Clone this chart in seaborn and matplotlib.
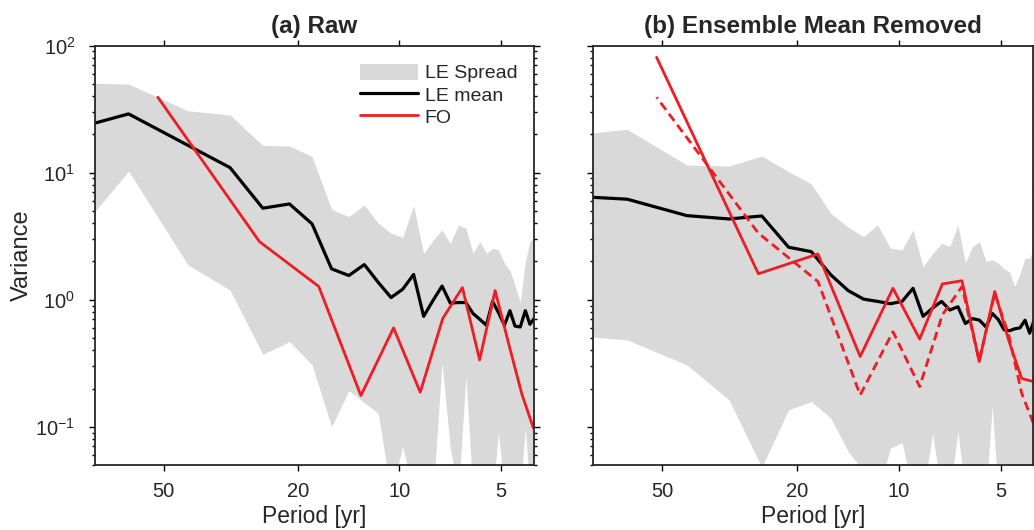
import numpy as np
import matplotlib
matplotlib.use("Agg")
import matplotlib.pyplot as plt
import seaborn as sns
from matplotlib.patches import Patch
from matplotlib.lines import Line2D
from matplotlib.ticker import FixedLocator, NullLocator, LogLocator

# periods [yr] of the large ensemble spectra and of the observations
le_period = [127.0, 63.5, 42.33, 31.75, 25.4, 21.17, 18.14, 15.88, 14.11, 12.7,
             11.55, 10.58, 9.77, 9.07, 8.47, 7.94, 7.47, 7.06, 6.68, 6.35,
             6.05, 5.77, 5.52, 5.29, 5.08, 4.88, 4.70, 4.54, 4.38, 4.23, 4.10, 3.97]
fo_period = [52.0, 26.0, 17.33, 13.0, 10.4, 8.67, 7.43, 6.5, 5.78, 5.2, 4.73, 4.33, 4.0]

# (a) Raw
raw_mean = [17.5, 29.0, 16.4, 10.95, 5.25, 5.67, 3.95, 1.75, 1.55, 1.89,
            1.37, 1.04, 1.21, 1.58, 0.74, 0.99, 1.28, 0.94, 0.95, 0.95,
            0.78, 0.70, 0.63, 0.97, 0.79, 0.63, 0.82, 0.62, 0.61, 0.82, 0.64, 0.72]
raw_upper = [51.9, 49.8, 30.7, 28.4, 16.4, 16.2, 13.4, 5.15, 4.5, 5.57,
             4.0, 3.34, 3.1, 5.5, 2.3, 2.95, 3.54, 2.78, 3.88, 3.65,
             2.32, 2.86, 2.32, 2.54, 2.47, 1.94, 1.7, 1.3, 0.95, 2.0, 2.9, 3.1]
raw_lower = [1.12, 10.3, 1.88, 1.19, 0.372, 0.468, 0.307, 0.10, 0.193, 0.155,
             0.128, 0.03, 0.07, 0.03, 0.03, 0.03, 0.32, 0.068, 0.03, 0.25,
             0.03, 0.03, 0.03, 0.03, 0.09, 0.03, 0.03, 0.03, 0.03, 0.1, 0.03, 0.03]
raw_fo = [39.2, 2.87, 1.27, 0.176, 0.60, 0.187, 0.715, 1.245, 0.336, 1.18, 0.44, 0.18, 0.097]

# (b) Ensemble mean removed
rem_mean = [6.84, 6.18, 4.59, 4.32, 4.56, 2.59, 2.39, 1.57, 1.18, 1.01,
            0.97, 0.93, 0.97, 1.23, 0.74, 0.86, 0.97, 0.83, 0.88, 0.65,
            0.71, 0.69, 0.61, 0.78, 0.70, 0.58, 0.57, 0.59, 0.60, 0.69, 0.545, 0.70]
rem_upper = [18.2, 21.9, 11.5, 11.3, 13.5, 10.2, 8.15, 4.79, 3.72, 3.14,
             3.88, 2.54, 2.47, 3.54, 1.82, 2.3, 2.78, 2.62, 3.88, 1.94,
             2.62, 2.86, 2.0, 2.06, 1.94, 1.75, 1.65, 1.27, 1.6, 2.12, 2.12, 2.62]
rem_lower = [0.56, 0.483, 0.307, 0.163, 0.048, 0.136, 0.158, 0.117, 0.064, 0.045,
             0.03, 0.068, 0.075, 0.03, 0.03, 0.088, 0.03, 0.03, 0.092, 0.03,
             0.03, 0.03, 0.03, 0.144, 0.03, 0.03, 0.03, 0.03, 0.03, 0.03, 0.03, 0.03]
rem_fo = [80.9, 1.6, 2.29, 0.357, 1.23, 0.49, 1.33, 1.41, 0.326, 1.16, 0.48, 0.24, 0.227]
rem_fo_raw = [39.2, 3.34, 1.39, 0.178, 0.56, 0.207, 0.76, 1.27, 0.33, 1.12, 0.53, 0.184, 0.107]

sns.set_style("ticks")
plt.rcParams['font.family'] = ['Liberation Sans', 'DejaVu Sans']
plt.rcParams['mathtext.default'] = 'regular'

gray = '#d9d9d9'
red = '#ee1d23'

fig = plt.figure(figsize=(10.34, 5.30), dpi=100)
ax1 = fig.add_axes([0.0916, 0.1226, 0.4244, 0.7914])
ax2 = fig.add_axes([0.5738, 0.1226, 0.4255, 0.7914])


def draw_panel(ax, mean, lower, upper, fo, title):
    ax.fill_between(le_period, lower, upper, color=gray, lw=0, zorder=1)
    sns.lineplot(x=le_period, y=mean, ax=ax, color='black', lw=2.3, zorder=3)
    sns.lineplot(x=fo_period, y=fo, ax=ax, color=red, lw=2.0, zorder=4)
    ax.set_xscale('log')
    ax.set_yscale('log')
    ax.set_xlim(80, 4)
    ax.set_ylim(0.05, 100)
    ax.xaxis.set_major_locator(FixedLocator([50, 20, 10, 5]))
    ax.xaxis.set_minor_locator(NullLocator())
    ax.set_xticklabels(['50', '20', '10', '5'])
    ax.yaxis.set_major_locator(LogLocator(base=10))
    ax.yaxis.set_minor_locator(LogLocator(base=10, subs=np.arange(2, 10)))
    ax.tick_params(which='both', direction='out', top=True, right=True,
                   labelsize=14.5, width=1.0, color='black')
    ax.tick_params(axis='x', pad=8)
    ax.tick_params(axis='y', pad=10)
    ax.tick_params(which='major', length=4)
    ax.tick_params(which='minor', length=2.5)
    for s in ax.spines.values():
        s.set_linewidth(1.3)
        s.set_zorder(5)
    ax.set_title(title, fontsize=17.5, fontweight='bold', pad=9)
    ax.set_xlabel('Period [yr]', fontsize=16.5, labelpad=3)


draw_panel(ax1, raw_mean, raw_lower, raw_upper, raw_fo, '(a) Raw')
ax1.set_ylabel('Variance', fontsize=17, labelpad=2)

draw_panel(ax2, rem_mean, rem_lower, rem_upper, rem_fo, '(b) Ensemble Mean Removed')
sns.lineplot(x=fo_period, y=rem_fo_raw, ax=ax2, color=red, lw=2.0, zorder=4)
ax2.lines[-1].set_dashes((3.2, 1.8))
ax2.tick_params(labelleft=False)
ax2.set_ylabel('')

handles = [Patch(facecolor=gray, edgecolor='none'),
           Line2D([], [], color='black', lw=2.3),
           Line2D([], [], color=red, lw=2.0)]
ax1.legend(handles, ['LE Spread', 'LE mean', 'FO'], loc='upper right',
           bbox_to_anchor=(0.99, 0.985), frameon=False, fontsize=14,
           handlelength=3.0, handleheight=0.9, handletextpad=0.35,
           labelspacing=0.18, borderaxespad=0.2)

fig.savefig('out.png', dpi=100)
